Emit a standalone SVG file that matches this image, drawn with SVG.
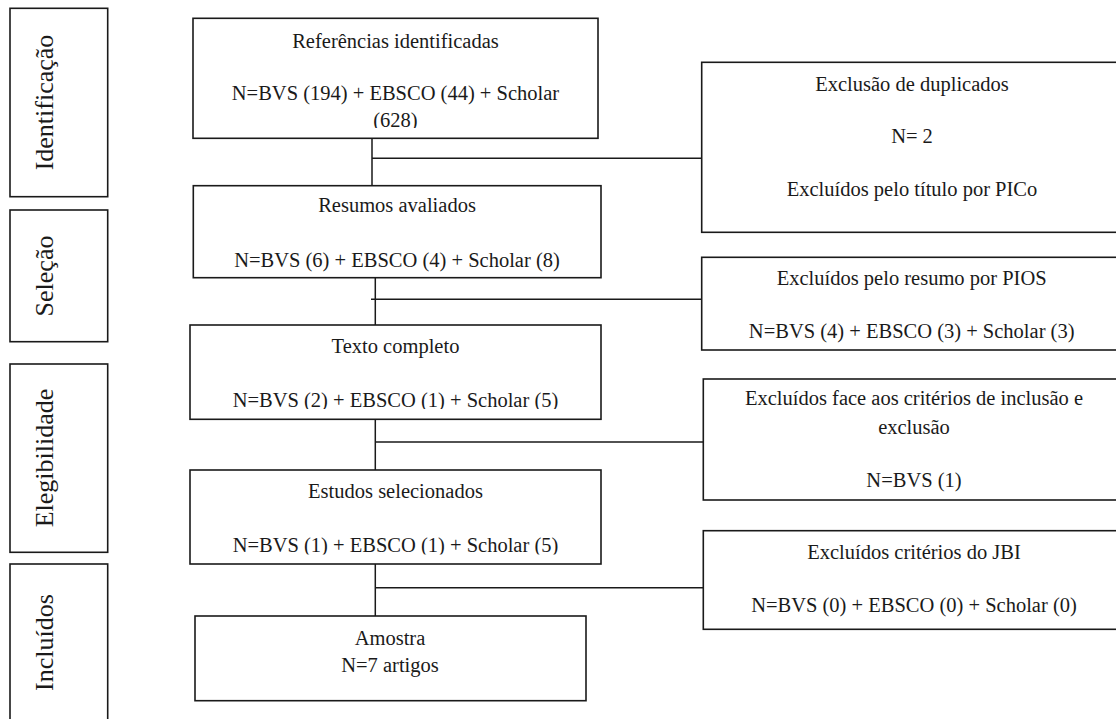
<svg xmlns="http://www.w3.org/2000/svg" width="1116" height="719" viewBox="0 0 1116 719">
<style>
.box{fill:#fff;stroke:#1a1a1a;stroke-width:1.6}
.t{font-family:'Liberation Serif','Times New Roman','DejaVu Serif',serif;font-size:20.5px;fill:#1a1a1a;text-anchor:middle}
.lab{font-family:'Liberation Serif','Times New Roman','DejaVu Serif',serif;font-size:26px;fill:#1a1a1a;text-anchor:middle}
.c{fill:none;stroke:#1a1a1a;stroke-width:1.5}
</style>
<defs>
<clipPath id="clip1"><rect x="193" y="18" width="405" height="110"/></clipPath>
<clipPath id="clip3"><rect x="190" y="325" width="411" height="84"/></clipPath>
<clipPath id="clip4"><rect x="190" y="470" width="411" height="84.5"/></clipPath>
</defs>
<rect width="1116" height="719" fill="#fff"/>

<g id="phase-identificacao">
<rect class="box" x="10" y="8.3" width="97.7" height="188.4"/>
<text class="lab" font-family="Liberation Serif, serif" transform="translate(53,102.5) rotate(-90)">Identificação</text>
</g>
<g id="phase-selecao">
<rect class="box" x="10" y="210" width="97.7" height="131.7"/>
<text class="lab" transform="translate(53,276) rotate(-90)">Seleção</text>
</g>
<g id="phase-elegibilidade">
<rect class="box" x="10" y="364" width="97.7" height="188.3"/>
<text class="lab" transform="translate(53,458) rotate(-90)">Elegibilidade</text>
</g>
<g id="phase-incluidos">
<rect class="box" x="10" y="564" width="97.7" height="162"/>
<text class="lab" transform="translate(53,642.5) rotate(-90)">Incluídos</text>
</g>

<g id="connectors">
<path class="c" d="M372 138.3 V185.7 M372 158.3 H701.7"/>
<path class="c" d="M375.3 277.7 V325 M371 299.3 H701.7"/>
<path class="c" d="M375.3 417 V470 M375.3 442 H703.3"/>
<path class="c" d="M375.3 564 V616 M375.3 587.7 H703.3"/>
</g>

<g id="referencias">
<rect class="box" x="193" y="18.3" width="405" height="120"/>
<g clip-path="url(#clip1)">
<text class="t" x="395.5" y="48.3">Referências identificadas</text>
<text class="t" x="395.5" y="100">N=BVS (194) + EBSCO (44) + Scholar</text>
<text class="t" x="395.5" y="126.5">(628)</text>
</g>
</g>

<g id="resumos">
<rect class="box" x="193.3" y="185.7" width="407.7" height="92"/>
<text class="t" x="397" y="211.7">Resumos avaliados</text>
<text class="t" x="397" y="266.7">N=BVS (6) + EBSCO (4) + Scholar (8)</text>
</g>

<g id="texto-completo">
<rect class="box" x="190" y="325" width="411" height="94.3"/>
<g clip-path="url(#clip3)">
<text class="t" x="395.5" y="353.3">Texto completo</text>
<text class="t" x="395.5" y="406.7">N=BVS (2) + EBSCO (1) + Scholar (5)</text>
</g>
</g>

<g id="estudos">
<rect class="box" x="190" y="470" width="411" height="94"/>
<g clip-path="url(#clip4)">
<text class="t" x="395.5" y="498.3">Estudos selecionados</text>
<text class="t" x="395.5" y="551.7">N=BVS (1) + EBSCO (1) + Scholar (5)</text>
</g>
</g>

<g id="amostra">
<rect class="box" x="195" y="616" width="391" height="84.7"/>
<text class="t" x="390" y="645">Amostra</text>
<text class="t" x="390" y="671.7">N=7 artigos</text>
</g>

<g id="excl-duplicados">
<rect class="box" x="701.7" y="62.3" width="422" height="170"/>
<text class="t" x="912" y="90.7">Exclusão de duplicados</text>
<text class="t" x="912" y="143.3">N= 2</text>
<text class="t" x="912" y="196">Excluídos pelo título por PICo</text>
</g>

<g id="excl-resumo">
<rect class="box" x="701.7" y="257.3" width="422" height="92.7"/>
<text class="t" x="911.7" y="285">Excluídos pelo resumo por PIOS</text>
<text class="t" x="911.7" y="338.3">N=BVS (4) + EBSCO (3) + Scholar (3)</text>
</g>

<g id="excl-criterios">
<rect class="box" x="703.3" y="379" width="422" height="121"/>
<text class="t" x="914" y="405">Excluídos face aos critérios de inclusão e</text>
<text class="t" x="914" y="434">exclusão</text>
<text class="t" x="914" y="486.7">N=BVS (1)</text>
</g>

<g id="excl-jbi">
<rect class="box" x="703.3" y="530.7" width="422" height="98.6"/>
<text class="t" x="914" y="559.3">Excluídos critérios do JBI</text>
<text class="t" x="914" y="611.7">N=BVS (0) + EBSCO (0) + Scholar (0)</text>
</g>
</svg>
